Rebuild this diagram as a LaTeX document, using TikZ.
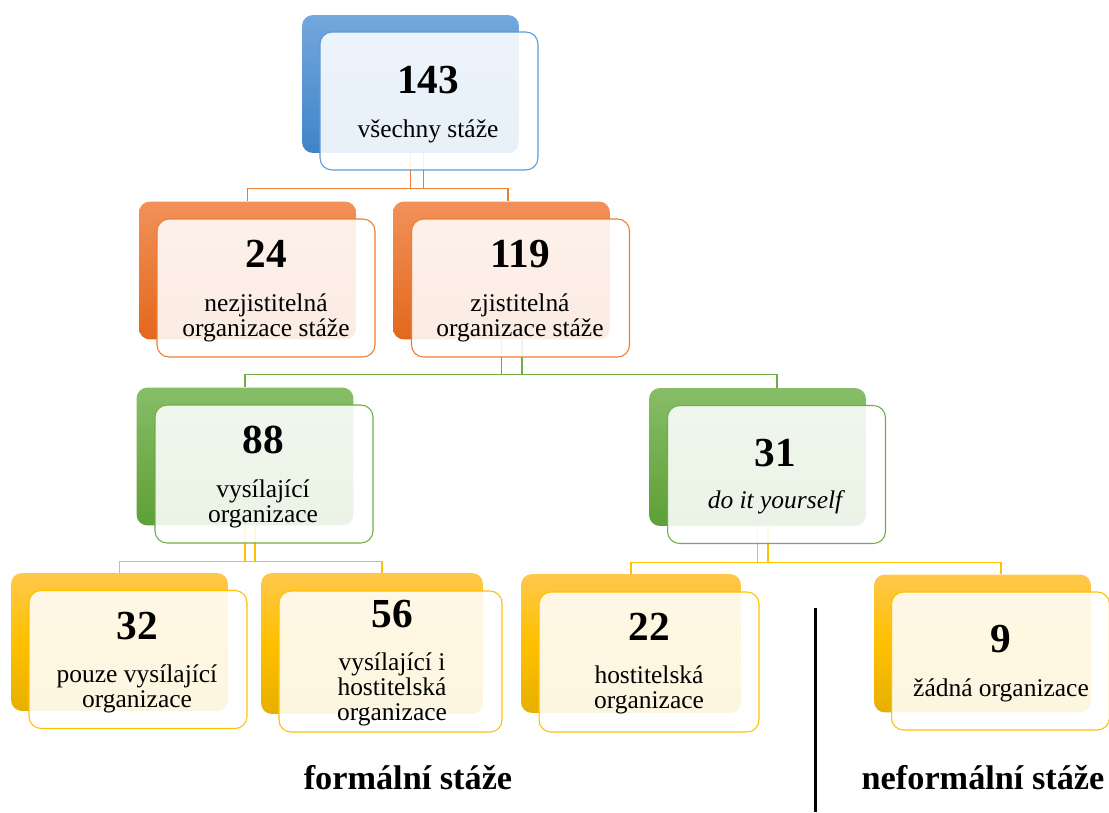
\documentclass[tikz,border=0pt]{standalone}
\usepackage{fontspec}
\setmainfont{Liberation Serif}

\definecolor{blueline}{HTML}{5B9BD5}
\definecolor{bluetop}{HTML}{72A8DC}
\definecolor{bluebot}{HTML}{3F84C8}
\definecolor{orangeline}{HTML}{ED7D31}
\definecolor{orangetop}{HTML}{F2915A}
\definecolor{orangebot}{HTML}{E2681B}
\definecolor{greenline}{HTML}{70AD47}
\definecolor{greentop}{HTML}{87BD67}
\definecolor{greenbot}{HTML}{5E9F36}
\definecolor{yellowline}{HTML}{FFC000}
\definecolor{yellowtop}{HTML}{FFC84C}
\definecolor{yellowbot}{HTML}{E6B000}

\begin{document}
\begin{tikzpicture}[x=0.02cm,y=-0.02cm]
\tikzset{
  backbox/.style={rectangle,rounded corners=0.22cm,minimum width=4.34cm,minimum height=2.76cm,inner sep=0pt},
  blueback/.style={backbox,top color=bluetop,bottom color=bluebot},
  orangeback/.style={backbox,top color=orangetop,bottom color=orangebot},
  greenback/.style={backbox,top color=greentop,bottom color=greenbot},
  yellowback/.style={backbox,top color=yellowtop,bottom color=yellowbot,middle color=yellowline},
  frontbox/.style={rectangle,rounded corners=0.24cm,minimum width=4.36cm,minimum height=2.76cm,inner sep=0pt,
    fill=white,fill opacity=0.88,draw=#1,line width=0.6pt},
  link/.style={draw=#1,line width=0.6pt},
  numtext/.style={anchor=base,inner sep=0pt,font=\fontsize{23.5}{27}\selectfont\bfseries},
  captext/.style={anchor=base,inner sep=0pt,align=center,font=\fontsize{14.5}{14.2}\selectfont},
  sectiontext/.style={anchor=base,inner sep=0pt,font=\fontsize{19.5}{23}\selectfont\bfseries}
}
\useasboundingbox (0,0) rectangle (1109,812);

% back boxes
\node[blueback] (bk_143) at (410.5,84) {};
\node[orangeback] (bk_24) at (247.5,270.5) {};
\node[orangeback] (bk_119) at (501.5,270.5) {};
\node[greenback] (bk_88) at (245,456.5) {};
\node[greenback] (bk_31) at (757.5,457) {};
\node[yellowback] (bk_32) at (119.5,642) {};
\node[yellowback,minimum width=4.44cm,minimum height=2.82cm] (bk_56) at (372,643.5) {};
\node[yellowback,minimum width=4.40cm,minimum height=2.78cm] (bk_22) at (631,643.5) {};
\node[yellowback] (bk_9) at (982.5,643.5) {};

% connectors
\draw[link=orangeline] ([xshift=0.26cm]bk_143.south) -- ++(0,35) -| (bk_24.north);
\draw[link=orangeline] (bk_143.south) -- ++(0,35) -| ([xshift=0.13cm]bk_119.north);
\draw[link=greenline] ([xshift=0.41cm]bk_119.south) -- ++(0,35) -| (bk_88.north);
\draw[link=greenline] (bk_119.south) -- ++(0,35) -| ([xshift=0.39cm]bk_31.north);
\draw[link=yellowline] ([xshift=0.2cm]bk_88.south) -- ++(0,36) -| (bk_32.north);
\draw[link=yellowline] (bk_88.south) -- ++(0,36) -| ([xshift=0.2cm]bk_56.north);
\draw[link=yellowline] ([xshift=0.21cm]bk_31.south) -- ++(0,36) -| (bk_22.north);
\draw[link=yellowline] (bk_31.south) -- ++(0,36) -| ([xshift=0.37cm]bk_9.north);

% front boxes
\node[frontbox=blueline] (fr_143) at (429,101) {};
\node[frontbox=orangeline] (fr_24) at (266,288) {};
\node[frontbox=orangeline] (fr_119) at (520.5,288) {};
\node[frontbox=greenline] (fr_88) at (264,474) {};
\node[frontbox=greenline] (fr_31) at (776.5,474.5) {};
\node[frontbox=yellowline] (fr_32) at (138,659.5) {};
\node[frontbox=yellowline,minimum width=4.46cm,minimum height=2.82cm] (fr_56) at (390.5,661.5) {};
\node[frontbox=yellowline,minimum width=4.40cm,minimum height=2.80cm] (fr_22) at (649,662) {};
\node[frontbox=yellowline] (fr_9) at (1000.5,661) {};

% texts (multi-line captions sit on their last baseline)
\node[numtext] (num_143) at (428,93) {143};
\node[captext] (cap_143) at (428,137) {všechny stáže};
\node[numtext] (num_24) at (266,267) {24};
\node[captext] (cap_24) at (266,336) {nezjistitelná\\organizace stáže};
\node[numtext] (num_119) at (520,267) {119};
\node[captext] (cap_119) at (520,336) {zjistitelná\\organizace stáže};
\node[numtext] (num_88) at (263,453) {88};
\node[captext] (cap_88) at (263,522) {vysílající\\organizace};
\node[numtext] (num_31) at (775,466) {31};
\node[captext,font=\fontsize{14.5}{14.2}\selectfont\itshape] (cap_31) at (775,508) {do it yourself};
\node[numtext] (num_32) at (137,639) {32};
\node[captext] (cap_32) at (137,707) {pouze vysílající\\organizace};
\node[numtext] (num_56) at (392,627) {56};
\node[captext] (cap_56) at (392,720) {vysílající i\\hostitelská\\organizace};
\node[numtext] (num_22) at (649,640) {22};
\node[captext] (cap_22) at (649,708) {hostitelská\\organizace};
\node[numtext] (num_9) at (1001,652) {9};
\node[captext] (cap_9) at (1001,696) {žádná organizace};

% divider and section titles
\coordinate (div_top) at (815,608);
\coordinate (div_bot) at (815,812);
\draw[line width=1.7pt] (div_top) -- (div_bot);
\node[sectiontext] (sec_formal) at (408,789) {formální stáže};
\node[sectiontext] (sec_informal) at (983,789) {neformální stáže};
\end{tikzpicture}
\end{document}
